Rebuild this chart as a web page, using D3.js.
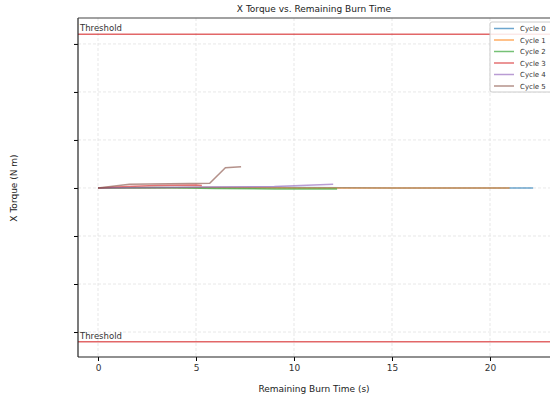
<!DOCTYPE html>
<html>
<head>
<meta charset="utf-8">
<script src="https://cdn.jsdelivr.net/npm/d3@7"></script>
<style>
  body { margin: 0; background: #fff; }
  text { font-family: "DejaVu Sans", sans-serif; fill: #222; }
</style>
</head>
<body>
<div id="container"></div>
<script>
// chart data
var seriesNames = ["Cycle 0", "Cycle 1", "Cycle 2", "Cycle 3", "Cycle 4", "Cycle 5"];
var seriesColors = ["#1f77b4", "#ff7f0e", "#2ca02c", "#d62728", "#9467bd", "#8c564b"];
var cycle0 = [[0, 0], [5, 0.01], [10, 0.01], [15, 0], [20, 0], [22.2, 0]];
var cycle1 = [[0, 0], [5, 0.01], [10, 0], [15, 0], [21, 0]];
var cycle2 = [[0, 0], [3, 0.01], [6, -0.01], [9, -0.02], [12.2, -0.02]];
var cycle3 = [[0, 0], [1.5, 0.03], [3, 0.05], [5, 0.06], [5.3, 0.05]];
var cycle4 = [[0, 0], [3, 0.01], [6, 0.02], [9, 0.03], [12, 0.08]];
var cycle5 = [[0, 0], [1.6, 0.08], [5.7, 0.1], [6.5, 0.42], [7.3, 0.44]];
var allCycles = [cycle0, cycle1, cycle2, cycle3, cycle4, cycle5];
var xTicks = [0, 5, 10, 15, 20];
var yTicks = [-3, -2, -1, 0, 1, 2, 3];
var threshold = 3.2;

var width = 550, height = 400;
var margin = {top: 18, left: 78, bottom: 357};

var svg = d3.select("#container")
  .append("svg")
    .attr("width", width)
    .attr("height", height);

var x = d3.scaleLinear().domain([-1.02, 24]).range([margin.left, margin.left + 25.02 * 19.6]);
var y = d3.scaleLinear().domain([-3.52, 3.54]).range([margin.bottom, margin.top]);

var plotRight = x(24);

// grid
svg.append("g").selectAll("line")
  .data(xTicks).enter().append("line")
    .attr("x1", function(d) { return x(d); })
    .attr("x2", function(d) { return x(d); })
    .attr("y1", margin.top)
    .attr("y2", margin.bottom)
    .attr("stroke", "#e2e2e2")
    .attr("stroke-width", 0.8)
    .attr("stroke-dasharray", "3,2");

svg.append("g").selectAll("line")
  .data(yTicks).enter().append("line")
    .attr("x1", margin.left)
    .attr("x2", plotRight)
    .attr("y1", function(d) { return y(d); })
    .attr("y2", function(d) { return y(d); })
    .attr("stroke", "#e2e2e2")
    .attr("stroke-width", 0.8)
    .attr("stroke-dasharray", "3,2");

// thresholds
[threshold, -threshold].forEach(function(t) {
  svg.append("line")
    .attr("x1", margin.left)
    .attr("x2", plotRight)
    .attr("y1", y(t))
    .attr("y2", y(t))
    .attr("stroke", "#d62728")
    .attr("stroke-opacity", 0.7)
    .attr("stroke-width", 1.5);
  svg.append("text")
    .attr("x", margin.left + 2)
    .attr("y", y(t) - 3)
    .style("font-size", "8.5px")
    .style("fill", "#333")
    .text("Threshold");
});

// lines
var line = d3.line()
  .x(function(d) { return x(d[0]); })
  .y(function(d) { return y(d[1]); });

svg.append("g").selectAll("path")
  .data(allCycles).enter().append("path")
    .attr("d", line)
    .attr("fill", "none")
    .attr("stroke", function(d, i) { return seriesColors[i]; })
    .attr("stroke-opacity", 0.65)
    .attr("stroke-width", 1.5);

// axes
var xAxis = svg.append("g")
  .attr("transform", "translate(0," + margin.bottom + ")")
  .call(d3.axisBottom(x).tickValues(xTicks).tickSize(4).tickPadding(4));
xAxis.select(".domain").remove();
xAxis.selectAll("text").style("font-size", "9px").style("fill", "#333");

var yAxis = svg.append("g")
  .attr("transform", "translate(" + margin.left + ",0)")
  .call(d3.axisLeft(y).tickValues(yTicks).tickSize(4).tickFormat(""));
yAxis.select(".domain").remove();

// spines
svg.append("line")
  .attr("x1", margin.left).attr("x2", margin.left)
  .attr("y1", margin.top).attr("y2", margin.bottom)
  .attr("stroke", "#222").attr("stroke-width", 1.2);
svg.append("line")
  .attr("x1", margin.left).attr("x2", plotRight)
  .attr("y1", margin.bottom).attr("y2", margin.bottom)
  .attr("stroke", "#222").attr("stroke-width", 1.2);
svg.append("line")
  .attr("x1", margin.left).attr("x2", plotRight)
  .attr("y1", margin.top).attr("y2", margin.top)
  .attr("stroke", "#444").attr("stroke-width", 1.2);

// title and labels
svg.append("text")
  .attr("x", 314)
  .attr("y", 12)
  .attr("text-anchor", "middle")
  .style("font-size", "9px")
  .text("X Torque vs. Remaining Burn Time");

svg.append("text")
  .attr("x", 314)
  .attr("y", 392)
  .attr("text-anchor", "middle")
  .style("font-size", "9px")
  .text("Remaining Burn Time (s)");

svg.append("text")
  .attr("transform", "translate(17,188) rotate(-90)")
  .attr("text-anchor", "middle")
  .style("font-size", "9px")
  .text("X Torque (N m)");

// legend
var legend = svg.append("g").attr("transform", "translate(490,22)");
legend.append("rect")
  .attr("width", 62)
  .attr("height", 70)
  .attr("rx", 2)
  .attr("fill", "#fff")
  .attr("fill-opacity", 0.85)
  .attr("stroke", "#ccc");
legend.selectAll("line")
  .data(seriesNames).enter().append("line")
    .attr("x1", 4)
    .attr("x2", 24)
    .attr("y1", function(d, i) { return 6.5 + i * 11.5; })
    .attr("y2", function(d, i) { return 6.5 + i * 11.5; })
    .attr("stroke", function(d, i) { return seriesColors[i]; })
    .attr("stroke-opacity", 0.65)
    .attr("stroke-width", 1.5);
legend.selectAll("text")
  .data(seriesNames).enter().append("text")
    .attr("x", 30)
    .attr("y", function(d, i) { return 9 + i * 11.5; })
    .style("font-size", "7px")
    .style("fill", "#333")
    .text(function(d) { return d; });
</script>
</body>
</html>
